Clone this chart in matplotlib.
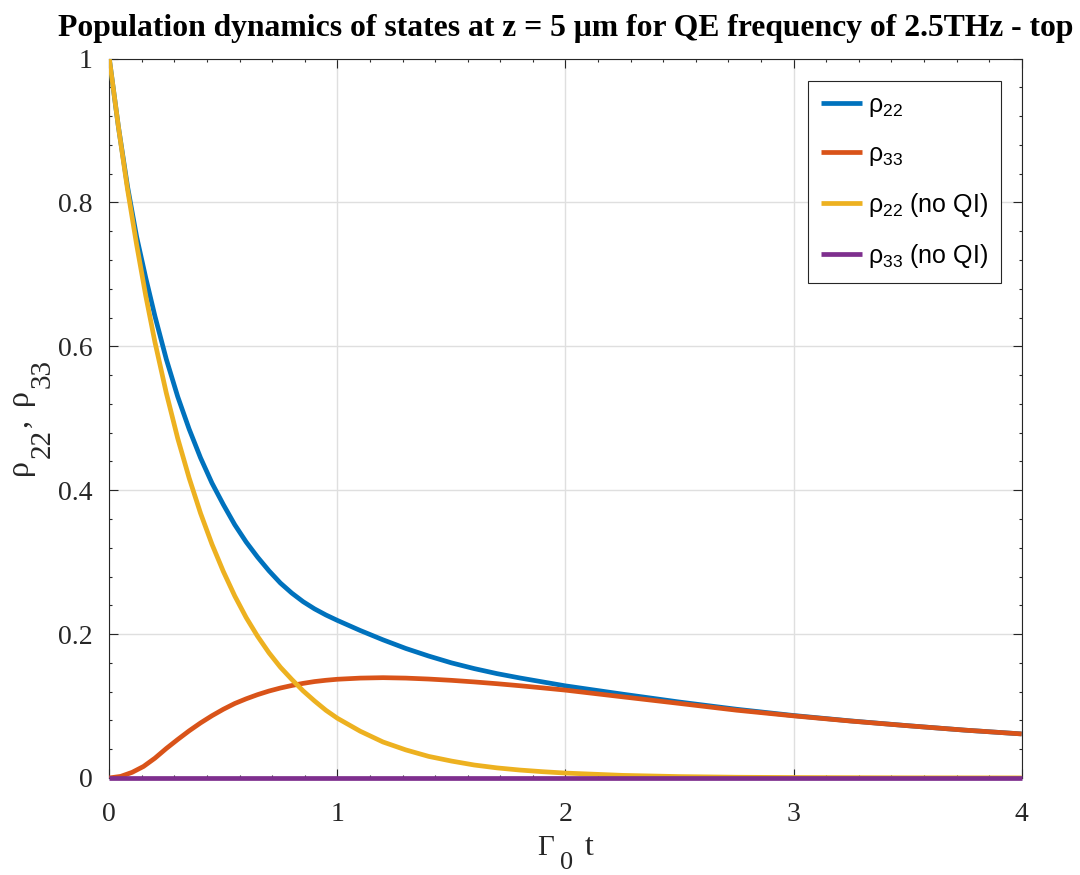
import numpy as np
import matplotlib
matplotlib.use("Agg")
import matplotlib.pyplot as plt
from matplotlib.ticker import FixedLocator
from matplotlib.font_manager import FontProperties
from matplotlib.transforms import IdentityTransform

plt.rcParams['mathtext.fontset'] = 'custom'
plt.rcParams['mathtext.rm'] = 'Liberation Sans'
plt.rcParams['mathtext.it'] = 'Liberation Sans:italic'
plt.rcParams['mathtext.bf'] = 'Liberation Sans:bold'

# ---- data ----
t_rho22 = [0.00, 0.04, 0.08, 0.12, 0.16, 0.20, 0.25, 0.30, 0.35, 0.40, 0.45, 0.50, 0.55,
           0.60, 0.65, 0.70, 0.75, 0.80, 0.85, 0.90, 0.95, 1.00, 1.10, 1.20, 1.30, 1.40,
           1.50, 1.60, 1.70, 1.80, 1.90, 2.00, 2.25, 2.50, 2.75, 3.00, 3.25, 3.50, 3.75, 4.00]
rho22 = [1.000, 0.905, 0.822, 0.752, 0.695, 0.642, 0.582, 0.530, 0.485, 0.445, 0.410, 0.380,
         0.352, 0.328, 0.307, 0.288, 0.271, 0.257, 0.245, 0.235, 0.2265, 0.219, 0.205, 0.192,
         0.180, 0.1695, 0.160, 0.152, 0.145, 0.139, 0.1335, 0.128, 0.1165, 0.1055, 0.0955,
         0.0868, 0.0793, 0.0727, 0.0665, 0.0612]

t_rho33 = [0.00, 0.05, 0.10, 0.15, 0.20, 0.25, 0.30, 0.35, 0.40, 0.45, 0.50, 0.55, 0.60,
           0.65, 0.70, 0.75, 0.80, 0.85, 0.90, 0.95, 1.00, 1.10, 1.20, 1.30, 1.40, 1.50,
           1.60, 1.70, 1.80, 1.90, 2.00, 2.25, 2.50, 2.75, 3.00, 3.25, 3.50, 3.75, 4.00]
rho33 = [0.000, 0.0022, 0.0078, 0.016, 0.0275, 0.041, 0.0535, 0.0655, 0.0765, 0.0865, 0.0955,
         0.1035, 0.110, 0.1158, 0.1208, 0.125, 0.1285, 0.1315, 0.134, 0.1358, 0.1372, 0.1388,
         0.1394, 0.1388, 0.1375, 0.1357, 0.1335, 0.1310, 0.1282, 0.1252, 0.1221, 0.1128,
         0.1036, 0.0942, 0.0863, 0.0791, 0.0726, 0.0665, 0.0612]

t_rho22_noQI = [0.00, 0.04, 0.08, 0.12, 0.16, 0.20, 0.25, 0.30, 0.35, 0.40, 0.45, 0.50, 0.55,
                0.60, 0.65, 0.70, 0.75, 0.80, 0.85, 0.90, 0.95, 1.00, 1.10, 1.20, 1.30, 1.40,
                1.50, 1.60, 1.70, 1.80, 1.90, 2.00, 2.25, 2.50, 2.75, 3.00, 3.50, 4.00]
rho22_noQI = [1.000, 0.905, 0.818, 0.741, 0.670, 0.606, 0.535, 0.472, 0.417, 0.368, 0.325,
              0.287, 0.253, 0.223, 0.197, 0.174, 0.154, 0.137, 0.121, 0.107, 0.094, 0.083,
              0.065, 0.050, 0.039, 0.030, 0.0235, 0.018, 0.014, 0.011, 0.0087, 0.0068, 0.0036,
              0.0019, 0.0010, 0.0006, 0.0002, 0.0001]

t_rho33_noQI = [0.0, 4.0]
rho33_noQI = [0.0, 0.0]

labels = ['ρ$_{22}$', 'ρ$_{33}$', 'ρ$_{22}$ (no QI)', 'ρ$_{33}$ (no QI)']
colors = ['#0072BD', '#D95319', '#EDB120', '#7E2F8E']

title = 'Population dynamics of states at z = 5 μm for QE frequency of 2.5THz - top'
xticks = [0, 1, 2, 3, 4]
yticks = [0, 0.2, 0.4, 0.6, 0.8, 1]
ytick_labels = ['0', '0.2', '0.4', '0.6', '0.8', '1']

# ---- figure ----
W, H = 1080, 875
fig = plt.figure(figsize=(W / 100, H / 100), dpi=100)
ax = fig.add_axes([0.1012, 0.1109, 0.8448, 0.8222])

serif = 'Liberation Serif'
lw = 3.4
series = [(t_rho22, rho22), (t_rho33, rho33), (t_rho22_noQI, rho22_noQI), (t_rho33_noQI, rho33_noQI)]
for i, ((tt, yy), lab, c) in enumerate(zip(series, labels, colors)):
    ax.plot(tt, yy, color=c, lw=lw, label=lab, solid_capstyle='butt',
            solid_joinstyle='round', clip_on=(i != 3), zorder=3 + i)

ax.set_xlim(0, 4)
ax.set_ylim(0, 1)
ax.set_xticks(xticks)
ax.set_xticklabels([str(v) for v in xticks])
ax.set_yticks(yticks)
ax.set_yticklabels(ytick_labels)
ax.xaxis.set_minor_locator(FixedLocator(np.arange(0, 29) / 7.0))
ax.yaxis.set_minor_locator(FixedLocator(np.arange(0, 26) * 0.04))
ax.tick_params(which='both', direction='in', top=True, right=True, width=0.8, colors='#262626')
ax.tick_params(which='major', length=6.5, labelsize=20)
ax.tick_params(which='minor', length=2.2)
ax.tick_params(axis='y', which='major', pad=12)
ax.tick_params(axis='x', which='major', pad=17)
for lbl in ax.get_xticklabels() + ax.get_yticklabels():
    lbl.set_fontfamily(serif)
    lbl.set_color('#262626')
for s in ax.spines.values():
    s.set_color('#262626')
    s.set_linewidth(0.8)

ax.grid(True, which='major', color='#dfdfdf', lw=1.0)
ax.set_axisbelow(True)

ax.set_title(title, fontfamily=serif, fontweight='bold', fontsize=22.8, pad=16)

# ---- axis labels in MATLAB TeX style (large, low subscripts) ----
pix = IdentityTransform()
lab_col = '#262626'
# x label: Gamma_0 t   (image coordinates -> display: y = H - y_img)
fig.text(537, H - 855, 'Γ', transform=pix, fontfamily=serif, fontsize=21,
         ha='left', va='baseline', color=lab_col)
fig.text(560, 1, '0', transform=pix, fontfamily=serif, fontsize=19,
         ha='left', va='bottom', color=lab_col)
fig.text(585, H - 855, 't', transform=pix, fontfamily=serif, fontsize=23,
         ha='left', va='baseline', color=lab_col)

# y label: rho_22, rho_33 (rotated, chained from bottom to top)
renderer = fig.canvas.get_renderer()
ylabel_parts = [('ρ', 23, 27, 0), ('22', 21, 50, 1), (',', 23, 27, 2), ('ρ', 23, 27, 14),
                ('33', 21, 50, 1)]
y_cur = H - 475
for s, fs, xb, gap in ylabel_parts:
    y_cur += gap
    tx = fig.text(xb, y_cur, s, transform=pix, fontfamily=serif, fontsize=fs,
                  rotation=90, rotation_mode='anchor', ha='left', va='baseline',
                  color=lab_col)
    bb = tx.get_window_extent(renderer)
    y_cur = bb.y1

leg = ax.legend(loc='upper right', bbox_to_anchor=(1 - 21 / 912.4, 1 - 22.2 / 719.5),
                borderaxespad=0, fancybox=False, framealpha=1, edgecolor='#262626',
                prop=FontProperties(family='Liberation Sans', size=18),
                handlelength=1.65, handletextpad=0.25, labelspacing=0.92, borderpad=0.5)
leg.get_frame().set_linewidth(0.8)
for line in leg.get_lines():
    line.set_linewidth(lw)

fig.savefig('out.png', dpi=100, facecolor='white')
